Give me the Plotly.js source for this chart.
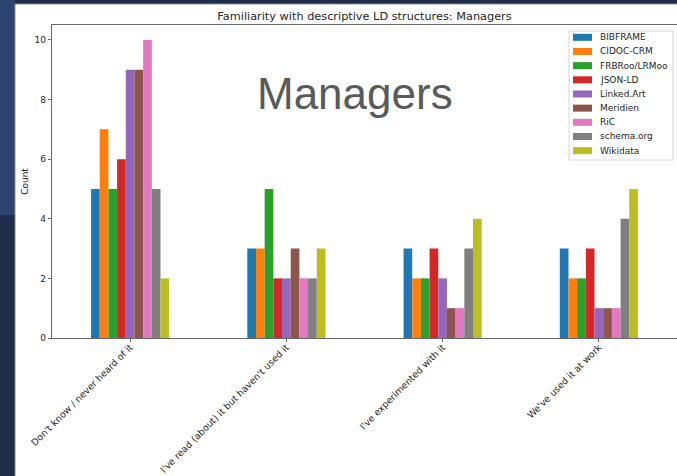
<!DOCTYPE html>
<html>
<head>
<meta charset="utf-8">
<script src="https://cdn.plot.ly/plotly-3.0.1.min.js"></script>
<style>html,body{margin:0;padding:0;background:#1f2d4a;}#chart{width:677px;height:476px;}</style>
</head>
<body>
<div id="chart"></div>
<script>
const categories = [
  "Don't know / never heard of it",
  "I've read (about) it but haven't used it",
  "I've experimented with it",
  "We've used it at work"
];
const seriesNames = ["BIBFRAME","CIDOC-CRM","FRBRoo/LRMoo","JSON-LD","Linked.Art","Meridien","RiC","schema.org","Wikidata"];
const BIBFRAME = [5, 3, 3, 3];
const CIDOC_CRM = [7, 3, 2, 2];
const FRBRoo_LRMoo = [5, 5, 2, 2];
const JSON_LD = [6, 2, 3, 3];
const Linked_Art = [9, 2, 2, 1];
const Meridien = [9, 3, 1, 1];
const RiC = [10, 2, 1, 1];
const schema_org = [5, 2, 3, 4];
const Wikidata = [2, 3, 4, 5];
const seriesValues = [BIBFRAME, CIDOC_CRM, FRBRoo_LRMoo, JSON_LD, Linked_Art, Meridien, RiC, schema_org, Wikidata];
const colors = ["#1f77b4","#ff7f0e","#2ca02c","#d62728","#9467bd","#8c564b","#e377c2","#7f7f7f","#bcbd22"];
const yTicks = [0, 2, 4, 6, 8, 10];

const W = 677, H = 476;
const M = {l: 52, r: 0, t: 25, b: 138};
const plotW = W - M.l - M.r, plotH = H - M.t - M.b;
const px2x = px => (px - M.l) / plotW;
const px2y = py => (H - M.b - py) / plotH;

const font = "DejaVu Sans, sans-serif";
const traces = seriesNames.map((n, i) => ({
  type: "bar",
  name: n,
  x: categories,
  y: seriesValues[i],
  marker: {color: colors[i], line: {width: 0}},
  hoverinfo: "skip"
}));

const shapes = [
  {type: "rect", xref: "paper", yref: "paper", layer: "below",
   x0: px2x(-10), x1: px2x(15), y0: px2y(215), y1: px2y(-10),
   fillcolor: "#2c4570", line: {width: 0}},
  {type: "rect", xref: "paper", yref: "paper", layer: "below",
   x0: px2x(15), x1: px2x(685), y0: px2y(490), y1: px2y(4),
   fillcolor: "#ffffff", line: {color: "#8a8a8a", width: 1}},
  // legend frame
  {type: "rect", xref: "paper", yref: "paper", layer: "above",
   x0: px2x(569), x1: px2x(673), y0: px2y(160), y1: px2y(31),
   fillcolor: "rgba(255,255,255,0.85)", line: {color: "#d6d6d6", width: 1}}
];
const annotations = [
  {text: "Managers", xref: "paper", yref: "paper",
   x: px2x(355), y: px2y(94), xanchor: "center", yanchor: "middle",
   showarrow: false,
   font: {family: "Liberation Sans, Arial, sans-serif", size: 44, color: "#5a5a5a"}}
];
seriesNames.forEach((n, i) => {
  const yc = 37.3 + 14.17 * i;
  shapes.push({type: "rect", xref: "paper", yref: "paper", layer: "above",
    x0: px2x(573), x1: px2x(592), y0: px2y(yc + 3.5), y1: px2y(yc - 3.5),
    fillcolor: colors[i], line: {width: 0}});
  annotations.push({text: n, xref: "paper", yref: "paper",
    x: px2x(598), y: px2y(yc), xanchor: "left", yanchor: "middle",
    showarrow: false, font: {family: font, size: 9, color: "#262626"}});
});

const layout = {
  width: W, height: H,
  margin: M,
  paper_bgcolor: "#1f2d4a",
  plot_bgcolor: "#ffffff",
  barmode: "group",
  bargap: 0.5,
  bargroupgap: 0,
  showlegend: false,
  font: {family: font, color: "#262626", size: 9},
  title: {
    text: "Familiarity with descriptive LD structures: Managers",
    font: {family: font, size: 11.3, color: "#262626"},
    x: 0.5, xref: "paper", xanchor: "center",
    y: 1, yref: "paper", yanchor: "bottom",
    pad: {b: 5}
  },
  xaxis: {
    type: "category",
    range: [-0.5, 3.5],
    showline: true, mirror: true, linecolor: "#444", linewidth: 0.8,
    ticks: "outside", ticklen: 3.5, tickcolor: "#444", tickwidth: 0.8,
    tickangle: -45,
    ticklabelstandoff: -4,
    tickfont: {family: font, size: 9.3, color: "#262626"},
    showgrid: false, zeroline: false, fixedrange: true
  },
  yaxis: {
    range: [0, 10.5],
    tickvals: yTicks,
    ticktext: yTicks.map(String),
    showline: true, mirror: false, linecolor: "#444", linewidth: 0.8,
    ticks: "outside", ticklen: 3.5, tickcolor: "#444", tickwidth: 0.8,
    tickfont: {family: font, size: 9, color: "#262626"},
    showgrid: false, zeroline: false, fixedrange: true,
    title: {text: "Count", font: {family: font, size: 9, color: "#262626"}, standoff: 4}
  },
  shapes: shapes,
  annotations: annotations
};

Plotly.newPlot("chart", traces, layout, {displayModeBar: false, staticPlot: true});
</script>
</body>
</html>
